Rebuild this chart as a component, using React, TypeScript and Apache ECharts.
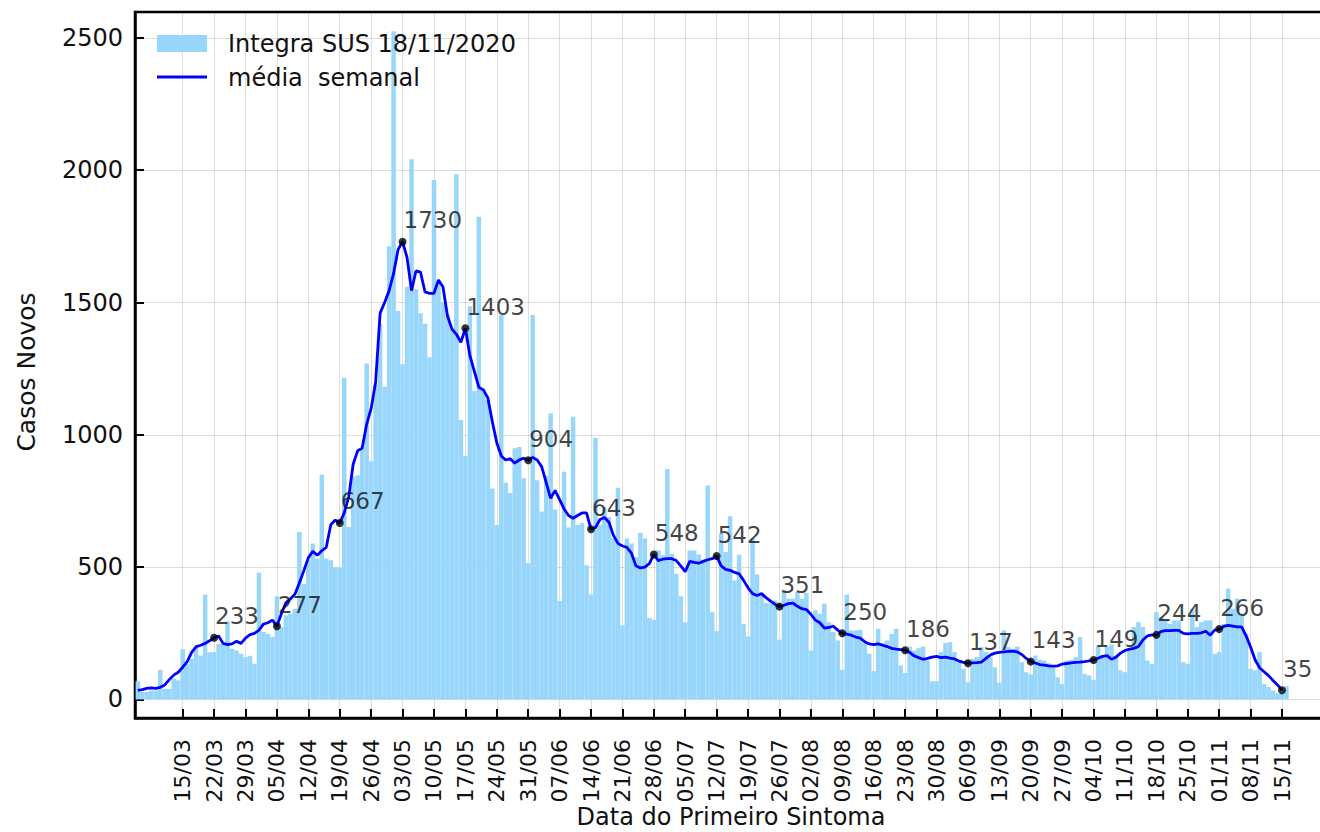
import React, { useEffect, useRef } from "react";
import * as echarts from "echarts";

// Day numbers are counted from 15/03/2020 (day 0). First bar is 05/03/2020.
const FIRST_DAY = -10;

const tickLabels = [
  "15/03", "22/03", "29/03", "05/04", "12/04", "19/04", "26/04", "03/05", "10/05",
  "17/05", "24/05", "31/05", "07/06", "14/06", "21/06", "28/06", "05/07", "12/07",
  "19/07", "26/07", "02/08", "09/08", "16/08", "23/08", "30/08", "06/09", "13/09",
  "20/09", "27/09", "04/10", "11/10", "18/10", "25/10", "01/11", "08/11", "15/11",
];

// Daily new cases (Integra SUS 18/11/2020), from 05/03 to 16/11
const barValues = [
  69, 28, 28, 34, 34, 112, 40,
  40, 78, 72, 190, 135, 154, 198,
  166, 396, 179, 179, 210, 210, 295,
  192, 185, 173, 160, 165, 135, 479,
  255, 248, 236, 390, 274, 318, 324,
  343, 633, 437, 526, 589, 532, 850,
  532, 526, 500, 498, 1215, 652, 843,
  847, 951, 1270, 900, 1190, 1420, 1182,
  1712, 2525, 1468, 1267, 1560, 2042, 1550,
  1460, 1420, 1293, 1963, 1570, 1500, 1455,
  1400, 1985, 1056, 920, 1486, 1166, 1824,
  1174, 1132, 797, 659, 1453, 819, 780,
  949, 954, 836, 515, 1453, 828, 710,
  845, 1081, 718, 372, 861, 650, 1068,
  659, 667, 507, 397, 988, 660, 726,
  690, 610, 800, 280, 608, 589, 538,
  629, 608, 308, 301, 564, 545, 871,
  551, 475, 390, 292, 563, 563, 548,
  528, 809, 330, 258, 627, 557, 692,
  450, 547, 286, 238, 608, 473, 402,
  364, 364, 374, 226, 415, 381, 381,
  406, 381, 402, 185, 337, 324, 362,
  292, 255, 223, 112, 396, 261, 261,
  263, 213, 173, 107, 267, 213, 223,
  248, 267, 129, 100, 200, 185, 194,
  200, 148, 69, 69, 179, 213, 217,
  179, 140, 116, 65, 154, 160, 198,
  179, 160, 122, 63, 261, 198, 192,
  200, 141, 103, 95, 166, 150, 147,
  137, 122, 84, 59, 147, 150, 160,
  236, 97, 91, 74, 204, 166, 200,
  208, 166, 110, 103, 188, 274, 292,
  274, 147, 135, 330, 311, 301, 286,
  299, 299, 141, 135, 343, 274, 292,
  299, 299, 173, 179, 286, 419, 343,
  381, 318, 248, 116, 110, 179, 59,
  47, 34, 24, 21, 50,
];

// Weekly average (média semanal), from 05/03 to 15/11
const lineValues = [
  34, 37, 42, 44, 42, 46, 55,
  75, 92, 103, 122, 143, 178, 200,
  205, 212, 222, 233, 240, 212, 207,
  210, 220, 212, 232, 245, 250, 262,
  285, 290, 300, 277, 325, 365, 380,
  398, 440, 487, 535, 560, 545, 562,
  575, 660, 678, 667, 705, 765, 890,
  940, 950, 1040, 1100, 1200, 1460, 1500,
  1545, 1610, 1700, 1730, 1670, 1545, 1620,
  1615, 1540, 1535, 1535, 1585, 1560, 1450,
  1400, 1380, 1350, 1403, 1300, 1240, 1180,
  1170, 1140, 1050, 970, 920, 905, 910,
  893, 905, 912, 904, 915, 905, 880,
  820, 760, 790, 755, 720, 695, 685,
  695, 705, 705, 643, 650, 680, 688,
  670, 620, 590, 580, 575, 553, 505,
  497, 500, 513, 548, 525, 530, 532,
  532, 525, 505, 483, 522, 518, 515,
  522, 528, 532, 542, 505, 492, 488,
  480, 475, 450, 422, 400, 393, 400,
  385, 372, 360, 351, 356, 362, 364,
  352, 343, 340, 322, 300, 290, 270,
  272, 277, 262, 250, 247, 243, 236,
  232, 218, 210, 207, 210, 205, 200,
  193, 190, 188, 186, 178, 165, 158,
  152, 155, 160, 163, 158, 160, 156,
  153, 145, 140, 137, 138, 139, 141,
  155, 168, 175, 178, 180, 182, 183,
  180, 170, 155, 143, 138, 132, 130,
  127, 126, 127, 134, 136, 138, 140,
  141, 143, 146, 149, 156, 163, 166,
  152, 160, 175, 185, 190, 193, 200,
  225, 240, 244, 244, 256, 260, 260,
  261, 261, 250, 248, 250, 250, 252,
  258, 243, 262, 266, 276, 280, 277,
  274, 274, 240, 198, 150, 120, 105,
  90, 72, 55, 35,
];

// Annotated points of the weekly average (every two weeks)
const markerDays = [7, 21, 35, 49, 63, 77, 91, 105, 119, 133, 147, 161, 175, 189, 203, 217, 231, 245];
const markerValues = [233, 277, 667, 1730, 1403, 904, 643, 548, 542, 351, 250, 186, 137, 143, 149, 244, 266, 35];

const yTicks = [0, 500, 1000, 1500, 2000, 2500];

const FONT = "DejaVu Sans";
const TEXT = "#111";
const BAR = "#99D6FB";

export default function App() {
  const ref = useRef<HTMLDivElement>(null);

  useEffect(() => {
    if (!ref.current) return;
    const chart = echarts.init(ref.current, null, { renderer: "svg" });

    const barData = barValues.map((v, i) => [FIRST_DAY + i, v]);
    const lineData = lineValues.map((v, i) => [FIRST_DAY + i, v]);
    const markerData = markerDays.map((d, i) => [d, markerValues[i]]);
    const tickDays = tickLabels.map((_, i) => i * 7);

    chart.setOption({
      animation: false,
      grid: {
        left: 135,
        top: 12,
        width: 1200,
        height: 706,
        show: true,
        borderColor: "#000",
        borderWidth: 2.5,
        backgroundColor: "transparent",
      },
      xAxis: {
        type: "value",
        min: -10.63,
        max: 256.81,
        axisLine: { show: true, onZero: false, lineStyle: { color: "#000", width: 2.5 } },
        axisTick: {
          show: true,
          inside: true,
          length: 9,
          customValues: tickDays,
          lineStyle: { color: "#000", width: 2 },
        },
        axisLabel: {
          show: true,
          customValues: tickDays,
          rotate: 90,
          margin: 21,
          fontSize: 22,
          fontFamily: FONT,
          color: TEXT,
          formatter: (v: number) => tickLabels[Math.round(v / 7)] ?? "",
        },
        splitLine: { show: true, lineStyle: { color: "rgba(0,0,0,0.13)", width: 1 } },
      },
      yAxis: {
        type: "value",
        min: -70,
        max: 2598,
        axisLine: { show: true, onZero: false, lineStyle: { color: "#000", width: 2.5 } },
        axisTick: {
          show: true,
          inside: true,
          length: 9,
          customValues: yTicks,
          lineStyle: { color: "#000", width: 2 },
        },
        axisLabel: {
          show: true,
          customValues: yTicks,
          margin: 12,
          fontSize: 24,
          fontFamily: FONT,
          color: TEXT,
          formatter: (v: number) => String(v),
        },
        splitLine: { show: true, lineStyle: { color: "rgba(0,0,0,0.13)", width: 1 } },
      },
      series: [
        {
          name: "Integra SUS 18/11/2020",
          type: "bar",
          data: barData,
          barWidth: 4.5,
          itemStyle: { color: BAR },
          silent: true,
          z: 1,
        },
        {
          name: "média  semanal",
          type: "line",
          data: lineData,
          showSymbol: false,
          lineStyle: { color: "#0000ff", width: 2.8 },
          silent: true,
          z: 3,
        },
        {
          type: "scatter",
          data: markerData,
          symbol: "circle",
          symbolSize: 8,
          itemStyle: { color: "#000" },
          silent: true,
          z: 4,
          label: {
            show: true,
            position: [5, -6],
            align: "left",
            verticalAlign: "bottom",
            fontSize: 23,
            fontFamily: FONT,
            color: TEXT,
            formatter: (p: any) => String(p.value[1]),
          },
        },
      ],
      graphic: [
        {
          type: "rect",
          shape: { x: 157, y: 35, width: 50, height: 17 },
          style: { fill: BAR },
          z: 10,
        },
        {
          type: "text",
          x: 228,
          y: 44,
          style: {
            text: "Integra SUS 18/11/2020",
            fontSize: 24,
            fontFamily: FONT,
            fill: TEXT,
            align: "left",
            verticalAlign: "middle",
          },
          z: 10,
        },
        {
          type: "line",
          shape: { x1: 157, y1: 77, x2: 207, y2: 77 },
          style: { stroke: "#0000ff", lineWidth: 2.8 },
          z: 10,
        },
        {
          type: "text",
          x: 228,
          y: 78,
          style: {
            text: "média  semanal",
            fontSize: 24,
            fontFamily: FONT,
            fill: TEXT,
            align: "left",
            verticalAlign: "middle",
          },
          z: 10,
        },
        {
          type: "text",
          x: 26,
          y: 372,
          rotation: Math.PI / 2,
          style: {
            text: "Casos Novos",
            fontSize: 25,
            fontFamily: FONT,
            fill: TEXT,
            align: "center",
            verticalAlign: "middle",
          },
        },
        {
          type: "text",
          x: 731,
          y: 817,
          style: {
            text: "Data do Primeiro Sintoma",
            fontSize: 24,
            fontFamily: FONT,
            fill: TEXT,
            align: "center",
            verticalAlign: "middle",
          },
        },
      ],
    });

    return () => {
      chart.dispose();
    };
  }, []);

  return (
    <div
      style={{
        position: "fixed",
        left: 0,
        top: 0,
        width: 1320,
        height: 832,
        overflow: "hidden",
        background: "#fff",
      }}
    >
      <div ref={ref} style={{ width: 1350, height: 832 }} />
    </div>
  );
}
